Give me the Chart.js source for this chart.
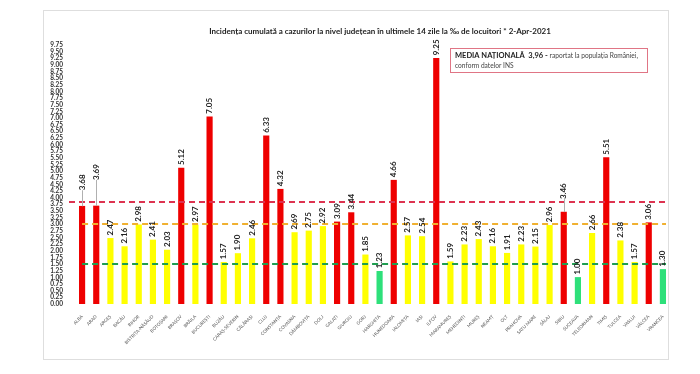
<!DOCTYPE html>
<html><head><meta charset="utf-8">
<script src="https://cdn.jsdelivr.net/npm/chart.js@4/dist/chart.umd.min.js"></script>
<style>html,body{margin:0;padding:0;background:#fff;}#wrap{position:relative;width:700px;height:374px;}</style>
</head><body><div id="wrap"><canvas id="c" width="700" height="374"></canvas></div>
<script>
const counties = ["ALBA","ARAD","ARGEȘ","BACĂU","BIHOR","BISTRIȚA-NĂSĂUD","BOTOȘANI","BRAȘOV","BRĂILA","BUCUREȘTI","BUZĂU","CARAȘ-SEVERIN","CĂLĂRAȘI","CLUJ","CONSTANȚA","COVASNA","DÂMBOVIȚA","DOLJ","GALAȚI","GIURGIU","GORJ","HARGHITA","HUNEDOARA","IALOMIȚA","IAȘI","ILFOV","MARAMUREȘ","MEHEDINȚI","MUREȘ","NEAMȚ","OLT","PRAHOVA","SATU MARE","SĂLAJ","SIBIU","SUCEAVA","TELEORMAN","TIMIȘ","TULCEA","VASLUI","VÂLCEA","VRANCEA"];
const incidence = [3.68,3.69,2.47,2.16,2.98,2.41,2.03,5.12,2.97,7.05,1.57,1.90,2.46,6.33,4.32,2.69,2.75,2.92,3.09,3.44,1.85,1.23,4.66,2.57,2.54,9.25,1.59,2.23,2.43,2.16,1.91,2.23,2.15,2.96,3.46,1.00,2.66,5.51,2.38,1.57,3.06,1.30];
const nationalLine = 3.85;
const upperThreshold = 3.0;
const lowerThreshold = 1.5;
const yMax = 9.75;
const yStep = 0.25;
const titleText = "Incidența cumulată a cazurilor la nivel județean în ultimele 14 zile la ‰ de locuitori * 2-Apr-2021";
const noteBold = "MEDIA NAȚIONALĂ  3,96 - ";
const noteRest = "raportat la populația României,";
const noteLine2 = "conform datelor INS";

const FONT = "Lato, 'Liberation Sans', sans-serif";
const RED = '#ee0000', YEL = '#ffff00', GRN = '#2ee07a';
const barColors = incidence.map(v => v >= upperThreshold ? RED : (v < lowerThreshold ? GRN : YEL));
const labelLift = {0: 13, 1: 23, 34: 10};

const decor = {
  id: 'decor',
  beforeDraw(chart) {
    const ctx = chart.ctx;
    ctx.save();
    ctx.fillStyle = '#fff';
    ctx.fillRect(0, 0, chart.width, chart.height);
    ctx.strokeStyle = '#dedede';
    ctx.lineWidth = 1;
    ctx.strokeRect(43.5, 10.5, 625, 349);
    ctx.restore();
  },
  afterDatasetsDraw(chart) {
    const ctx = chart.ctx, y = chart.scales.y, x = chart.scales.x;
    const x0 = x.getPixelForValue(0);
    const lines = [
      {v: nationalLine, c: '#dd3350', from: 69},
      {v: upperThreshold, c: '#f0b030', from: x0},
      {v: lowerThreshold, c: '#1f9e50', from: x0}
    ];
    ctx.save();
    ctx.lineWidth = 2;
    ctx.setLineDash([6, 4]);
    lines.forEach(l => {
      const py = Math.round(y.getPixelForValue(l.v));
      ctx.strokeStyle = l.c;
      ctx.beginPath();
      ctx.moveTo(l.from, py);
      ctx.lineTo(666, py);
      ctx.stroke();
    });
    ctx.restore();
  },
  afterDraw(chart) {
    const ctx = chart.ctx, y = chart.scales.y, x = chart.scales.x;
    ctx.save();
    ctx.font = "bold 8px " + FONT;
    ctx.fillStyle = '#222';
    ctx.textBaseline = 'middle';
    ctx.textAlign = 'left';
    incidence.forEach((v, i) => {
      const px = x.getPixelForValue(i);
      const top = y.getPixelForValue(v);
      const lift = labelLift[i] || 0;
      if (lift) {
        ctx.strokeStyle = '#b0b0b0';
        ctx.lineWidth = 1;
        ctx.beginPath();
        ctx.moveTo(Math.round(px) + 0.5, top);
        ctx.lineTo(Math.round(px) + 0.5, top - 3 - lift);
        ctx.stroke();
      }
      ctx.save();
      ctx.translate(px, top - 3 - lift);
      ctx.rotate(-Math.PI / 2);
      ctx.fillText(v.toFixed(2), 0, 0);
      ctx.restore();
    });
    ctx.font = "bold 8px " + FONT;
    ctx.fillStyle = '#222';
    ctx.textAlign = 'center';
    ctx.fillText(titleText, 380, 31);
    ctx.fillStyle = '#fff';
    ctx.fillRect(450, 48, 197, 24);
    ctx.strokeStyle = '#e07585';
    ctx.lineWidth = 1;
    ctx.strokeRect(450.5, 48.5, 197, 24);
    ctx.textAlign = 'left';
    ctx.fillStyle = '#222';
    ctx.font = "bold 7.5px " + FONT;
    ctx.fillText(noteBold, 455, 56);
    const w = ctx.measureText(noteBold).width;
    ctx.font = "6.6px " + FONT;
    ctx.fillStyle = '#444';
    ctx.fillText(noteRest, 455 + w, 56);
    ctx.fillText(noteLine2, 455, 66);
    ctx.restore();
  }
};

new Chart(document.getElementById('c'), {
  type: 'bar',
  data: {
    labels: counties,
    datasets: [{
      data: incidence,
      backgroundColor: barColors,
      borderWidth: 0,
      barThickness: 5.5
    }]
  },
  options: {
    responsive: false,
    animation: false,
    devicePixelRatio: 1,
    layout: {padding: {left: 0, top: 45, right: 30, bottom: 0}},
    plugins: {legend: {display: false}, tooltip: {enabled: false}, title: {display: false}},
    scales: {
      y: {
        min: 0, max: yMax,
        grid: {display: false}, border: {display: false},
        ticks: {stepSize: yStep, autoSkip: false, padding: 4, color: '#333',
          font: {family: FONT, size: 6.5, weight: 'bold'},
          callback: v => Number(v).toFixed(2)},
        afterFit: s => { s.width = 75; }
      },
      x: {
        grid: {display: false}, border: {display: false},
        ticks: {autoSkip: false, maxRotation: 45, minRotation: 45, padding: 2, color: '#555',
          font: {family: FONT, size: 4.5}},
        afterFit: s => { s.height = 70; }
      }
    }
  },
  plugins: [decor]
});
</script></body></html>
